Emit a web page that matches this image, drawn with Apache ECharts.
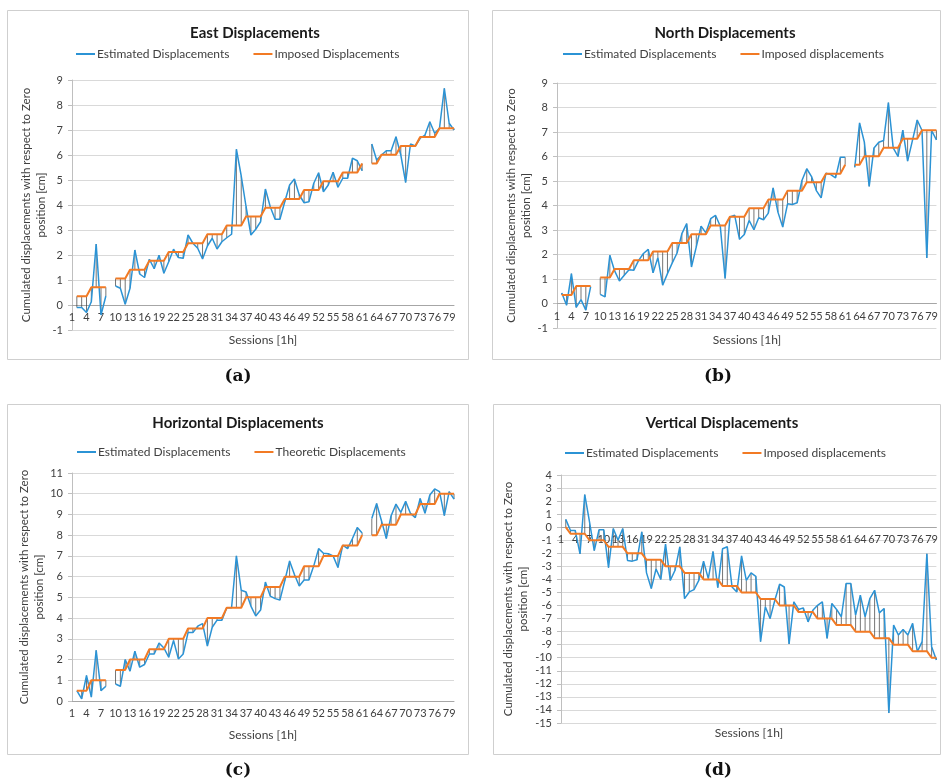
<!DOCTYPE html>
<html><head><meta charset="utf-8">
<script src="https://cdn.jsdelivr.net/npm/echarts/dist/echarts.min.js"></script>
<style>html,body{margin:0;padding:0;background:#fff}#c{width:941px;height:782px}</style>
</head><body><div id="c"></div>
<script>
var sessions = ['1','2','3','4','5','6','7','8','9','10','11','12','13','14','15','16','17','18','19','20',
'21','22','23','24','25','26','27','28','29','30','31','32','33','34','35','36','37','38','39','40',
'41','42','43','44','45','46','47','48','49','50','51','52','53','54','55','56','57','58','59','60',
'61','62','63','64','65','66','67','68','69','70','71','72','73','74','75','76','77','78','79','80'];

var eastEstimated = [null,-0.1,-0.1,-0.3,0.13,2.44,-0.4,0.36,null,0.76,
0.67,0.03,0.67,2.2,1.24,1.1,1.83,1.45,1.99,1.27,
1.73,2.23,1.9,1.87,2.8,2.47,2.27,1.84,2.36,2.67,
2.24,2.53,2.69,2.83,6.23,5.16,3.93,2.8,3.03,3.33,
4.64,3.93,3.43,3.43,4.13,4.8,5.04,4.4,4.09,4.13,
4.87,5.29,4.53,4.8,5.31,4.71,5.07,5.07,5.87,5.77,
5.37,null,6.44,5.8,6.0,6.17,6.17,6.73,6.0,4.9,
6.44,6.36,6.67,6.8,7.33,6.87,7.07,8.67,7.27,7.0];

var eastImposed = [null,0.35,0.35,0.35,0.71,0.71,0.71,0.71,null,1.06,
1.06,1.06,1.41,1.41,1.41,1.41,1.77,1.77,1.77,1.77,
2.12,2.12,2.12,2.12,2.47,2.47,2.47,2.47,2.83,2.83,
2.83,2.83,3.18,3.18,3.18,3.18,3.54,3.54,3.54,3.54,
3.89,3.89,3.89,3.89,4.24,4.24,4.24,4.24,4.60,4.60,
4.60,4.60,4.95,4.95,4.95,4.95,5.30,5.30,5.30,5.30,
5.66,null,5.66,5.66,6.01,6.01,6.01,6.01,6.36,6.36,
6.36,6.36,6.72,6.72,6.72,6.72,7.07,7.07,7.07,7.07];

var northEstimated = [null,0.43,-0.07,1.22,-0.16,0.16,-0.27,0.68,null,0.37,
0.27,1.97,1.33,0.92,1.15,1.38,1.36,1.76,2.04,2.21,
1.25,1.87,0.75,1.22,1.66,2.06,2.85,3.26,1.49,2.31,
3.16,2.88,3.46,3.6,3.15,1.02,3.53,3.6,2.62,2.82,
3.39,3.01,3.5,3.42,3.69,4.72,3.73,3.12,4.07,4.04,
4.11,5.02,5.5,5.18,4.61,4.31,5.32,5.26,5.13,5.97,
5.97,null,5.56,7.37,6.58,4.78,6.35,6.58,6.65,8.2,
6.35,6.0,7.08,5.81,6.65,7.49,7.06,1.86,7.06,6.68];

var northImposed = [null,0.35,0.35,0.35,0.71,0.71,0.71,0.71,null,1.06,
1.06,1.06,1.41,1.41,1.41,1.41,1.77,1.77,1.77,1.77,
2.12,2.12,2.12,2.12,2.47,2.47,2.47,2.47,2.83,2.83,
2.83,2.83,3.18,3.18,3.18,3.18,3.54,3.54,3.54,3.54,
3.89,3.89,3.89,3.89,4.24,4.24,4.24,4.24,4.60,4.60,
4.60,4.60,4.95,4.95,4.95,4.95,5.30,5.30,5.30,5.30,
5.66,null,5.66,5.66,6.01,6.01,6.01,6.01,6.36,6.36,
6.36,6.36,6.72,6.72,6.72,6.72,7.07,7.07,7.07,7.07];

var horizEstimated = [null,0.5,0.1,1.23,0.19,2.45,0.5,0.71,null,0.82,
0.71,2.0,1.44,2.4,1.63,1.76,2.27,2.27,2.8,2.56,
2.11,2.92,2.03,2.27,3.3,3.3,3.61,3.73,2.65,3.56,
3.9,3.9,4.5,4.5,7.0,5.34,5.26,4.58,4.1,4.39,
5.74,5.06,4.94,4.87,5.8,6.76,6.1,5.55,5.84,5.84,
6.52,7.35,7.13,7.11,7.0,6.44,7.52,7.35,7.84,8.37,
8.1,null,8.8,9.53,8.7,7.84,8.94,9.5,9.1,9.63,
9.05,8.85,9.77,9.06,9.94,10.23,10.1,8.94,10.1,9.74];

var horizTheoretic = [null,0.5,0.5,0.5,1,1,1,1,null,1.5,
1.5,1.5,2,2,2,2,2.5,2.5,2.5,2.5,
3,3,3,3,3.5,3.5,3.5,3.5,4,4,
4,4,4.5,4.5,4.5,4.5,5,5,5,5,
5.5,5.5,5.5,5.5,6,6,6,6,6.5,6.5,
6.5,6.5,7,7,7,7,7.5,7.5,7.5,7.5,
8,null,8,8,8.5,8.5,8.5,8.5,9,9,
9,9,9.5,9.5,9.5,9.5,10,10,10,10];

var vertEstimated = [null,0.6,-0.25,-0.25,-2.05,2.5,0.4,-1.8,-0.2,-0.2,
-3.1,-0.1,-1.0,-0.1,-2.55,-2.6,-2.5,-0.35,-3.5,-4.7,
-3.2,-4.0,-1.3,-4.07,-3.3,-1.5,-5.47,-4.96,-4.78,-4.07,
-2.6,-3.94,-1.86,-4.63,-1.65,-1.5,-4.58,-4.96,-2.2,-4.07,
-3.5,-3.76,-8.77,-6.1,-7.0,-5.6,-4.37,-4.58,-8.95,-5.72,
-6.3,-6.18,-7.25,-6.36,-5.98,-5.72,-8.52,-5.85,-6.3,-6.86,
-4.32,-4.32,-6.74,-5.2,-6.86,-5.47,-4.83,-6.56,-6.23,-14.24,
-7.5,-8.26,-7.83,-8.26,-7.37,-9.53,-8.77,-2.03,-9.15,-10.17];

var vertImposed = [null,0,-0.5,-0.5,-0.5,-0.5,-1,-1,-1,-1,
-1.5,-1.5,-1.5,-1.5,-2,-2,-2,-2,-2.5,-2.5,
-2.5,-2.5,-3,-3,-3,-3,-3.5,-3.5,-3.5,-3.5,
-4,-4,-4,-4,-4.5,-4.5,-4.5,-4.5,-5,-5,
-5,-5,-5.5,-5.5,-5.5,-5.5,-6,-6,-6,-6,
-6.5,-6.5,-6.5,-6.5,-7,-7,-7,-7,-7.5,-7.5,
-7.5,-7.5,-8,-8,-8,-8,-8.5,-8.5,-8.5,-8.5,
-9,-9,-9,-9,-9.5,-9.5,-9.5,-9.5,-10,-10];

var panelTitles = ['East Displacements','North Displacements','Horizontal Displacements','Vertical Displacements'];
var secondNames = ['Imposed Displacements','Imposed displacements','Theoretic Displacements','Imposed displacements'];
var firstName = 'Estimated Displacements';
var yMin = [-1,-1,0,-15];
var yMax = [9,9,11,4];
var panelLetters = ['(a)','(b)','(c)','(d)'];
var yTitle = 'Cumulated displacements with respect to Zero\nposition [cm]';
var xTitle = 'Sessions [1h]';

var estSets = [eastEstimated, northEstimated, horizEstimated, vertEstimated];
var impSets = [eastImposed, northImposed, horizTheoretic, vertImposed];

// layout
var grids = [
  {left:72, top:80, width:382, height:250},
  {left:557, top:83, width:381, height:245},
  {left:72, top:473, width:382, height:228},
  {left:561, top:475, width:377, height:248}
];
var boxes = [[7,10,461,349],[492,10,448,349],[7,404,461,350],[493,404,447,350]];
var titlePos = [[255,33],[725,33],[238,423],[722,423]];
var legendPos = [[71,43],[558,43],[72,441],[560,442]];
var xTitlePos = [[263,340],[747,340],[263,735],[749,733]];
var letterPos = [[238,377],[718,377],[238,771],[718,771]];
var nameGaps = [21,21,21,19];

var BLUE = '#2b93d5', ORANGE = '#f27a24';
var FONT = 'Lato';

var chart = echarts.init(document.getElementById('c'), null, {renderer:'canvas'});

var xAxes = [], yAxes = [], series = [], legends = [], graphics = [];
for (var i = 0; i < 4; i++) {
  // category axis crosses the value axis at 0 (Excel style)
  var zeroOffset = -grids[i].height * (0 - yMin[i]) / (yMax[i] - yMin[i]);
  xAxes.push({
    type:'category', gridIndex:i, data:sessions, boundaryGap:false,
    position:'bottom', offset:zeroOffset,
    axisLine:{show:true, onZero:false, lineStyle:{color:'#a6a6a6', width:1}},
    axisTick:{show:false},
    axisLabel:{interval:2, fontSize:11, color:'#404040', margin:7, fontFamily:FONT},
    splitLine:{show:false}
  });
  yAxes.push({
    type:'value', gridIndex:i, min:yMin[i], max:yMax[i], interval:1,
    axisLine:{show:true, lineStyle:{color:'#bfbfbf'}},
    axisTick:{show:true, length:4, lineStyle:{color:'#bfbfbf'}},
    axisLabel:{fontSize:11, color:'#404040', margin:9, fontFamily:FONT},
    splitLine:{show:true, lineStyle:{color:'#d9d9d9', width:1}},
    name:yTitle, nameLocation:'middle', nameRotate:90, nameGap:nameGaps[i],
    nameTextStyle:{fontSize:11.5, lineHeight:15, color:'#404040', fontFamily:FONT, align:'center'}
  });
  var est = estSets[i], imp = impSets[i];
  var drops = [];
  for (var k = 0; k < sessions.length; k++) {
    if (est[k] != null && imp[k] != null) drops.push([k, est[k], imp[k]]);
  }
  series.push({
    type:'custom', xAxisIndex:i, yAxisIndex:i, data:drops, z:1, silent:true,
    encode:{x:0, y:[1,2]},
    renderItem:function(params, api){
      var p1 = api.coord([api.value(0), api.value(1)]);
      var p2 = api.coord([api.value(0), api.value(2)]);
      return {type:'line', shape:{x1:p1[0], y1:p1[1], x2:p2[0], y2:p2[1]},
              style:{stroke:'#3a3a3a', lineWidth:0.7}};
    }
  });
  series.push({
    name:firstName, type:'line', xAxisIndex:i, yAxisIndex:i, data:est,
    symbol:'none', connectNulls:false, z:3,
    itemStyle:{color:BLUE}, lineStyle:{color:BLUE, width:1.5}
  });
  series.push({
    name:secondNames[i], type:'line', xAxisIndex:i, yAxisIndex:i, data:imp,
    symbol:'none', connectNulls:false, z:4,
    itemStyle:{color:ORANGE}, lineStyle:{color:ORANGE, width:2}
  });
  legends.push({
    left:legendPos[i][0], top:legendPos[i][1], orient:'horizontal',
    data:[firstName, secondNames[i]],
    icon:'rect', itemWidth:19, itemHeight:2, itemGap:24,
    textStyle:{fontSize:12, color:'#404040', fontFamily:FONT, padding:[0,0,0,-3]},
    selectedMode:false
  });
  graphics.push({type:'rect', shape:{x:boxes[i][0]+0.5, y:boxes[i][1]+0.5, width:boxes[i][2], height:boxes[i][3]},
    style:{fill:null, stroke:'#cfcfcf', lineWidth:1}, z:-1});
  graphics.push({type:'text', x:titlePos[i][0], y:titlePos[i][1],
    style:{text:panelTitles[i], font:'bold 15px '+FONT, fill:'#1a1a1a', textAlign:'center', textVerticalAlign:'middle'}});
  graphics.push({type:'text', x:xTitlePos[i][0], y:xTitlePos[i][1],
    style:{text:xTitle, font:'12px '+FONT, fill:'#404040', textAlign:'center', textVerticalAlign:'middle'}});
  graphics.push({type:'text', x:letterPos[i][0], y:letterPos[i][1],
    style:{text:panelLetters[i], font:'bold 17px "DejaVu Serif"', fill:'#111', textAlign:'center', textVerticalAlign:'middle'}});
}

chart.setOption({
  backgroundColor:'#ffffff',
  animation:false,
  grid:grids,
  xAxis:xAxes,
  yAxis:yAxes,
  legend:legends,
  series:series,
  graphic:graphics
});
</script>
</body></html>
